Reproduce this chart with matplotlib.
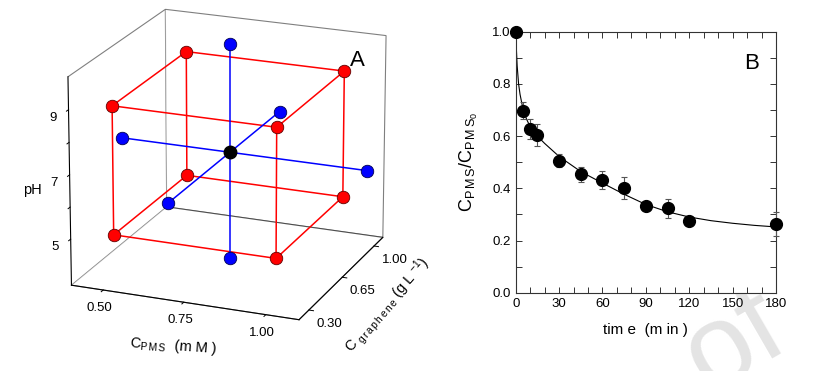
import matplotlib
matplotlib.use("Agg")
import matplotlib.pyplot as plt
import numpy as np
from matplotlib.ticker import MultipleLocator

plt.rcParams['font.family'] = ['Liberation Sans', 'DejaVu Sans']
plt.rcParams['mathtext.fontset'] = 'custom'
plt.rcParams['mathtext.rm'] = 'Liberation Sans'
plt.rcParams['mathtext.it'] = 'Liberation Sans'

# ---------------- Panel A data (central composite design) ----------------
cube_pms = [0.50, 1.00, 0.50, 1.00, 0.50, 1.00, 0.50, 1.00]
cube_gra = [0.30, 0.30, 1.00, 1.00, 0.30, 0.30, 1.00, 1.00]
cube_ph = [5, 5, 5, 5, 9, 9, 9, 9]
axial_pms = [0.41, 1.17, 0.75, 0.75, 0.75, 0.75]
axial_gra = [0.65, 0.65, 0.06, 1.16, 0.65, 0.65]
axial_ph = [7, 7, 7, 7, 3.64, 10.36]
center_pms = [0.75]
center_gra = [0.65]
center_ph = [7]

pms_ticks = [0.50, 0.75, 1.00]
pms_ticklabels = ['0.50', '0.75', '1.00']
gra_ticks = [0.30, 0.65, 1.00]
gra_ticklabels = ['0.30', '0.65', '1.00']
ph_ticks = [5, 6, 7, 8, 9]
ph_ticklabels = ['5', '', '7', '', '9']

# ---------------- Panel B data ----------------
time_min = [0, 5, 10, 15, 30, 45, 60, 75, 90, 105, 120, 180]
ratio = [1.0, 0.697, 0.626, 0.605, 0.506, 0.453, 0.432, 0.402, 0.333, 0.323, 0.275, 0.263]
ratio_err = [0.0, 0.032, 0.038, 0.043, 0.026, 0.030, 0.035, 0.043, 0.010, 0.036, 0.0, 0.046]
fit_time = [0, 0.5, 1, 2, 3, 5, 7.5, 10, 15, 20, 30, 45, 60, 75, 90, 105, 120, 135, 150, 165, 180]
fit_ratio = [1.0, 0.93, 0.87, 0.80, 0.76, 0.705, 0.665, 0.636, 0.60, 0.572, 0.522, 0.464,
             0.420, 0.377, 0.338, 0.310, 0.290, 0.276, 0.266, 0.258, 0.252]

fig = plt.figure(figsize=(8.17, 3.71), dpi=100)

# ---------------- Panel A ----------------
ax3 = fig.add_axes([-0.005, 0.026, 0.56, 1.06], projection='3d')
ax3.computed_zorder = False
ax3.set_proj_type('persp', focal_length=1.6)
ax3.view_init(elev=19.5, azim=-68)
ax3.set_box_aspect((1, 1, 0.9))
ax3.set_xlim(0.40, 1.10)
ax3.set_ylim(0.20, 1.10)
ax3.set_zlim(3.55, 10.0)

for axis in (ax3.xaxis, ax3.yaxis, ax3.zaxis):
    axis.pane.set_facecolor((1, 1, 1, 0))
    axis.pane.set_edgecolor('black')
    axis.pane.set_linewidth(0.8)
    axis.line.set_linewidth(0.8)
    axis._axinfo['tick']['inward_factor'] = 0.25
    axis._axinfo['tick']['outward_factor'] = 0.0
    axis._axinfo['tick']['linewidth'] = {True: 0.7, False: 0.5}
ax3.grid(False)
ax3.zaxis.set_ticks_position('lower')

ax3.set_xticks(pms_ticks)
ax3.set_xticklabels(pms_ticklabels, fontsize=9.5)
ax3.set_yticks(gra_ticks)
ax3.set_yticklabels(gra_ticklabels, fontsize=9.5, ha='left')
ax3.set_zticks(ph_ticks)
ax3.set_zticklabels(ph_ticklabels, fontsize=9.5)
ax3.tick_params(axis='x', pad=-2)
ax3.tick_params(axis='y', pad=-3)
ax3.tick_params(axis='z', pad=-1)

# cube edges
n = len(cube_pms)
for i in range(n):
    for j in range(i + 1, n):
        diff = (cube_pms[i] != cube_pms[j]) + (cube_gra[i] != cube_gra[j]) + (cube_ph[i] != cube_ph[j])
        if diff == 1:
            ax3.plot([cube_pms[i], cube_pms[j]], [cube_gra[i], cube_gra[j]], [cube_ph[i], cube_ph[j]],
                     color='#ff0000', lw=1.1, zorder=1)
# axial lines
for k in range(0, 6, 2):
    ax3.plot([axial_pms[k], axial_pms[k + 1]], [axial_gra[k], axial_gra[k + 1]], [axial_ph[k], axial_ph[k + 1]],
             color='#0000ff', lw=1.1, zorder=1)

ax3.plot(cube_pms, cube_gra, cube_ph, 'o', ls='none', color='#ff0000', mec='#600000', mew=0.6,
         ms=9, zorder=3)
ax3.plot(axial_pms, axial_gra, axial_ph, 'o', ls='none', color='#0000ff', mec='#000050', mew=0.6,
         ms=9, zorder=3)
ax3.plot(center_pms, center_gra, center_ph, 'o', ls='none', color='black', mec='black',
         ms=9, zorder=4)

fig.text(357 / 817, 1 - 60 / 371, 'A', fontsize=16, ha='center', va='center')
fig.text(32 / 817, 1 - 190 / 371, 'pH', fontsize=10.5, ha='center', va='center')
fig.text(173 / 817, 1 - 346 / 371, r'C$_{\mathregular{P\,M\,S}}$  (m M )', fontsize=10.5,
         ha='center', va='center', rotation=-4)
fig.text(388 / 817, 1 - 305 / 371, r'C $_{\mathregular{g\,r\,a\,p\,h\,e\,n\,e}}$ (g L $^{\mathregular{-1}}$)',
         fontsize=10.5, ha='center', va='center', rotation=49)

# ---------------- Panel B ----------------
axb = fig.add_axes([515.7 / 817, 1 - 292.7 / 371, (776 - 515.7) / 817, (292.7 - 31.7) / 371])
axb.plot(fit_time, fit_ratio, color='black', lw=0.8, zorder=2)
axb.errorbar(time_min, ratio, yerr=ratio_err, fmt='o', color='black', ms=8.5,
             ecolor='#555555', elinewidth=0.8, capsize=2.5, capthick=0.8, zorder=3, clip_on=False)
axb.set_xlim(0, 180)
axb.set_ylim(0.0, 1.0)
axb.set_xticks([0, 30, 60, 90, 120, 150, 180])
axb.set_yticks([0.0, 0.2, 0.4, 0.6, 0.8, 1.0])
axb.set_yticklabels(['0.0', '0.2', '0.4', '0.6', '0.8', '1.0'])
axb.xaxis.set_minor_locator(MultipleLocator(10))
axb.yaxis.set_minor_locator(MultipleLocator(0.1))
axb.tick_params(which='both', direction='in', top=True, right=True, labelsize=9.5,
                width=0.7, color='#333333')
axb.tick_params(which='major', length=4)
axb.tick_params(which='minor', length=4)
for sp in axb.spines.values():
    sp.set_linewidth(0.8)
    sp.set_color('#333333')
axb.set_xlabel('tim e  (m in )', fontsize=11, labelpad=10)
axb.set_ylabel(r'C$_{\mathregular{P\,M\,S}}$/C$_{\mathregular{P\,M\,S_0}}$', fontsize=13, labelpad=9)
axb.text(0.905, 0.88, 'B', transform=axb.transAxes, fontsize=16, ha='center', va='center')

# watermark fragment (partially outside the page, as in the reference)
fig.text(708 / 817, 1 - 394 / 371, 'of', fontsize=84, color='#e4e4e4', rotation=30,
         rotation_mode='anchor', ha='left', va='baseline', zorder=-10)

fig.savefig('out.png', dpi=100)
